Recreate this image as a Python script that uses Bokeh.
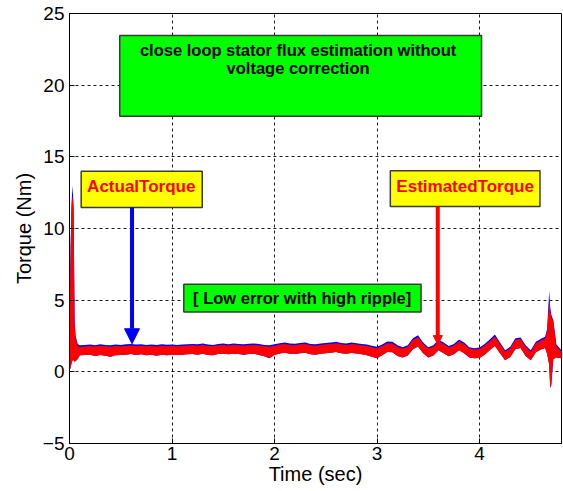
from bokeh.plotting import figure
from bokeh.models import (ColumnDataSource, BoxAnnotation, Label, Arrow, NormalHead,
                          FixedTicker, Range1d)
from bokeh.embed import file_html
from bokeh.resources import INLINE

# ---------------- data ----------------
time_s = [0.000, 0.010, 0.020, 0.030, 0.040, 0.050, 0.060, 0.080,
          0.10, 0.15, 0.20, 0.25, 0.30, 0.35, 0.40, 0.45, 0.50, 0.55,
          0.60, 0.65, 0.70, 0.75, 0.80, 0.85, 0.90, 0.95, 1.00, 1.05,
          1.10, 1.15, 1.20, 1.25, 1.30, 1.35, 1.40, 1.45, 1.50, 1.55,
          1.60, 1.65, 1.70, 1.75, 1.80, 1.85, 1.90, 1.95, 2.00, 2.05,
          2.10, 2.15, 2.20, 2.25, 2.30, 2.35, 2.40, 2.45, 2.50, 2.55,
          2.60, 2.65, 2.70, 2.75, 2.80, 2.85, 2.90, 2.95, 3.00, 3.05,
          3.10, 3.15, 3.20, 3.25, 3.30, 3.35, 3.40, 3.45, 3.50, 3.55,
          3.60, 3.65, 3.70, 3.75, 3.80, 3.85, 3.90, 3.95, 4.00, 4.05,
          4.10, 4.15, 4.20, 4.25, 4.30, 4.35, 4.40, 4.45, 4.50, 4.55,
          4.60, 4.64, 4.66, 4.68, 4.69, 4.70, 4.72, 4.75, 4.80]

# actual torque (blue) upper envelope
actual_top = [3.0, 8.5, 11.8, 13.0, 11.5, 3.6, 2.5, 1.95,
              1.85, 1.88, 1.90, 1.86, 1.92, 1.88, 1.86, 1.90, 1.87, 1.92,
              1.95, 1.90, 1.93, 1.88, 1.90, 1.87, 1.92, 1.89, 1.91, 1.88,
              1.90, 1.93, 1.95, 1.92, 1.98, 1.90, 1.88, 1.95, 1.97, 1.93,
              1.98, 1.95, 1.92, 1.96, 1.98, 1.94, 1.88, 1.85, 1.92, 2.00,
              2.05, 1.98, 1.96, 2.02, 2.05, 1.95, 1.92, 1.98, 2.02, 2.05,
              2.10, 2.02, 1.98, 2.05, 2.00, 1.95, 1.90, 1.82, 1.75, 1.90,
              2.12, 2.10, 1.85, 1.72, 1.85, 2.35, 2.55, 2.05, 1.72, 1.85,
              2.25, 2.05, 1.80, 1.95, 2.25, 2.05, 1.72, 1.65, 1.70, 1.95,
              2.25, 2.60, 2.05, 1.50, 1.75, 2.35, 2.40, 1.85, 1.50, 2.10,
              2.30, 2.45, 3.00, 5.64, 4.50, 4.00, 3.60, 1.90, 1.50]

# estimated torque (red) band
estimated_top = [2.9, 8.3, 11.5, 12.3, 11.2, 3.3, 2.3, 1.80,
                 1.74, 1.77, 1.80, 1.76, 1.82, 1.78, 1.75, 1.80, 1.77, 1.82,
                 1.84, 1.80, 1.82, 1.78, 1.80, 1.77, 1.82, 1.79, 1.81, 1.78,
                 1.80, 1.83, 1.85, 1.82, 1.87, 1.80, 1.78, 1.85, 1.87, 1.83,
                 1.88, 1.85, 1.82, 1.86, 1.88, 1.84, 1.78, 1.75, 1.82, 1.90,
                 1.94, 1.88, 1.86, 1.92, 1.94, 1.85, 1.82, 1.88, 1.92, 1.95,
                 1.99, 1.92, 1.88, 1.94, 1.90, 1.85, 1.80, 1.72, 1.65, 1.80,
                 2.00, 1.98, 1.74, 1.62, 1.75, 2.24, 2.42, 1.94, 1.62, 1.75,
                 2.12, 1.94, 1.70, 1.84, 2.12, 1.94, 1.62, 1.55, 1.60, 1.84,
                 2.14, 2.47, 1.94, 1.40, 1.64, 2.24, 2.29, 1.74, 1.40, 1.99,
                 2.19, 2.34, 2.85, 5.06, 4.30, 3.85, 3.50, 1.78, 1.38]

estimated_bottom = [0.0, 0.3, 0.6, 0.8, 0.8, 0.7, 0.75, 0.9,
                    1.15, 1.18, 1.20, 1.10, 1.18, 1.12, 1.05, 1.16, 1.18, 1.20,
                    1.24, 1.18, 1.22, 1.15, 1.20, 1.12, 1.20, 1.16, 1.20, 1.18,
                    1.20, 1.22, 1.24, 1.20, 1.26, 1.18, 1.15, 1.24, 1.26, 1.22,
                    1.26, 1.24, 1.20, 1.24, 1.26, 1.18, 1.08, 0.95, 1.18, 1.28,
                    1.34, 1.26, 1.24, 1.30, 1.34, 1.22, 1.20, 1.26, 1.30, 1.34,
                    1.38, 1.30, 1.26, 1.32, 1.28, 1.22, 1.15, 1.05, 0.95, 1.15,
                    1.38, 1.36, 1.10, 1.00, 1.14, 1.58, 1.76, 1.30, 1.00, 1.14,
                    1.50, 1.30, 1.08, 1.22, 1.50, 1.30, 1.00, 0.94, 0.96, 1.20,
                    1.50, 1.80, 1.30, 0.80, 1.04, 1.58, 1.66, 1.10, 0.80, 1.36,
                    1.56, 1.66, 1.25, 0.50, -1.12, -0.90, 0.90, 1.00, 0.95]

x_ticks = [0, 1, 2, 3, 4]
y_ticks = [-5, 0, 5, 10, 15, 20, 25]

FONT = "Liberation Sans"

src = ColumnDataSource(dict(t=time_s, a=actual_top, et=estimated_top, eb=estimated_bottom))

p = figure(width=563, height=491, output_backend="svg", toolbar_location=None,
           x_range=Range1d(0, 4.8), y_range=Range1d(-5, 25),
           min_border_left=69, min_border_right=2, min_border_top=13,
           min_border_bottom=48)
p.background_fill_color = "white"
p.border_fill_color = "white"
p.outline_line_color = "black"
p.outline_line_width = 1

# signal bands
p.varea(x="t", y1="eb", y2="a", source=src, fill_color="#0000ff")
p.varea(x="t", y1="eb", y2="et", source=src, fill_color="#ff0000")

# axes
p.xaxis.ticker = FixedTicker(ticks=x_ticks)
p.yaxis.ticker = FixedTicker(ticks=y_ticks)
for ax in (p.xaxis[0], p.yaxis[0]):
    ax.major_tick_in = 5
    ax.major_tick_out = 0
    ax.minor_tick_line_color = None
    ax.axis_line_color = "black"
    ax.major_tick_line_color = "black"
    ax.major_label_text_font = FONT
    ax.major_label_text_font_size = "19px"
    ax.major_label_text_color = "black"
    ax.axis_label_text_font = FONT
    ax.axis_label_text_font_size = "20px"
    ax.axis_label_text_font_style = "normal"
    ax.axis_label_text_color = "black"
p.xaxis.axis_label = "Time (sec)"
p.yaxis.axis_label = "Torque (Nm)"
p.xaxis.major_label_standoff = 3
p.yaxis.major_label_standoff = 5
p.xaxis.axis_label_standoff = 0
p.yaxis.axis_label_standoff = 5

p.grid.grid_line_color = "black"
p.grid.grid_line_dash = "3 3"
p.grid.grid_line_width = 1
p.grid.grid_line_alpha = 0.9

# annotation boxes
BOX_EDGE = "#3a3a3a"
p.add_layout(BoxAnnotation(left=0.49, right=4.02, bottom=17.83, top=23.47,
                           fill_color="#00ff00", fill_alpha=1.0,
                           line_color=BOX_EDGE, line_alpha=1.0, line_width=1.5))
p.add_layout(BoxAnnotation(left=1.115, right=3.43, bottom=4.17, top=6.11,
                           fill_color="#00ff00", fill_alpha=1.0,
                           line_color=BOX_EDGE, line_alpha=1.0, line_width=1.5))
p.add_layout(BoxAnnotation(left=0.114, right=1.295, bottom=11.47, top=13.99,
                           fill_color="#ffff00", fill_alpha=1.0,
                           line_color=BOX_EDGE, line_alpha=1.0, line_width=1.5))
p.add_layout(BoxAnnotation(left=3.13, right=4.59, bottom=11.54, top=14.03,
                           fill_color="#ffff00", fill_alpha=1.0,
                           line_color=BOX_EDGE, line_alpha=1.0, line_width=1.5))

def lab(x, y, text, color="black", size="16.5px"):
    p.add_layout(Label(x=x, y=y, text=text, text_align="center",
                       text_baseline="middle", text_font=FONT,
                       text_font_size=size, text_font_style="bold",
                       text_color=color))

lab(2.23, 22.45, "close loop stator flux estimation without")
lab(2.23, 21.2, "voltage correction")
lab(2.27, 5.15, "[ Low error with high ripple]")
lab(0.70, 12.95, "ActualTorque", color="#ff0000", size="17px")
lab(3.86, 12.95, "EstimatedTorque", color="#ff0000", size="17px")

# arrows
p.add_layout(Arrow(x_start=0.61, y_start=11.47, x_end=0.61, y_end=1.96,
                   line_color="#0000ff", line_width=4,
                   end=NormalHead(size=15, fill_color="#0000ff", line_color="#0000ff")))
p.add_layout(Arrow(x_start=3.593, y_start=11.54, x_end=3.593, y_end=1.9,
                   line_color="#ff0000", line_width=4,
                   end=NormalHead(size=9, fill_color="#ff0000", line_color="#ff0000")))

open("out.html", "w").write(file_html(p, INLINE))
